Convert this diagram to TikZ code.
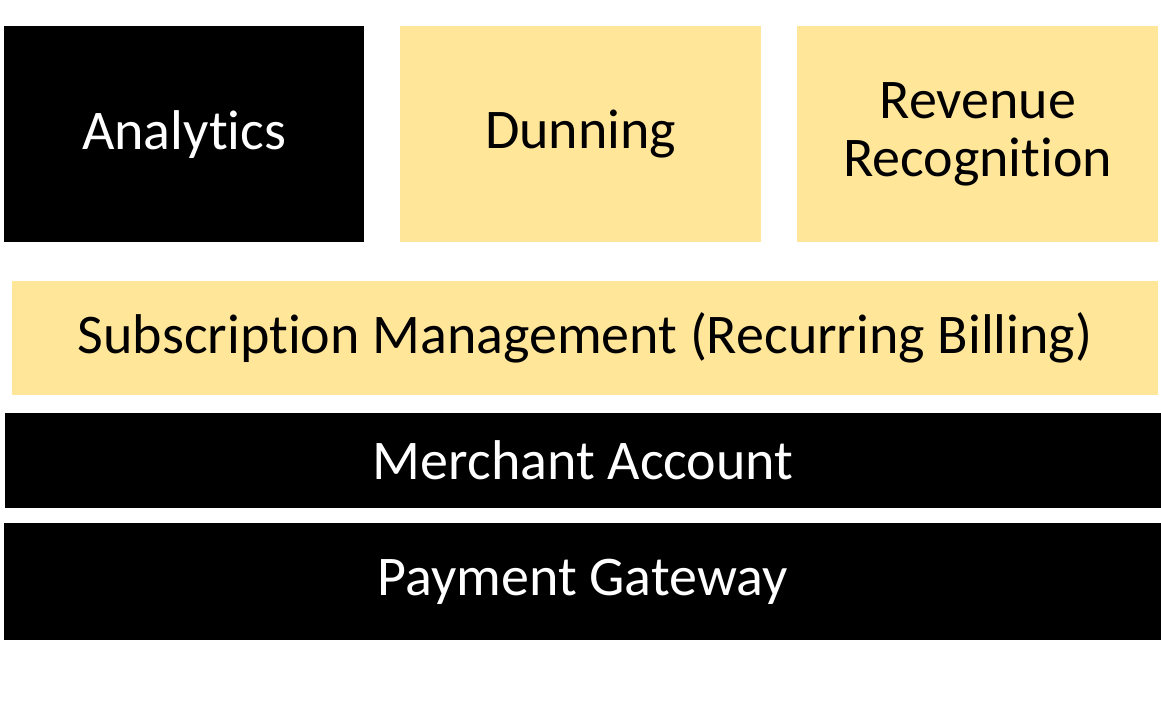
\documentclass[tikz,border=0pt]{standalone}
\usepackage{fontspec}
\setmainfont{Carlito}[Ligatures=NoCommon]
\usetikzlibrary{positioning}
\definecolor{gold_fill}{HTML}{FFE699}

\begin{document}
\begin{tikzpicture}[
    x=1pt, y=-1pt,
    font=\fontsize{56}{61}\selectfont,
    block/.style={anchor=north west, inner sep=0pt, align=center},
    block_dark/.style={block, fill=black, text=white},
    block_light/.style={block, fill=gold_fill, text=black}
]

% --- Area di disegno ---
\useasboundingbox[fill=white] (0,0) rectangle (1161,705);

% --- Riga superiore ---
\node[block_dark, minimum width=360pt, minimum height=216pt] (analytics) at (4,26) {Analytics};
\node[block_light, minimum width=361pt, minimum height=216pt] (dunning) at (400,26) {Dunning};
\node[block_light, minimum width=361pt, minimum height=216pt] (revenue) at (797,26) {\raisebox{-3pt}{Revenue}\\Recognition};

% --- Strati inferiori ---
\node[block_light, minimum width=1146pt, minimum height=114pt] (subscription) at (12,281) {Subscription Management (Recurring Billing)};
\node[block_dark, minimum width=1156pt, minimum height=95pt] (merchant) at (5,413) {Merchant Account};
\node[block_dark, minimum width=1157pt, minimum height=117pt] (gateway) at (4,523) {Payment Gateway};

\end{tikzpicture}
\end{document}
